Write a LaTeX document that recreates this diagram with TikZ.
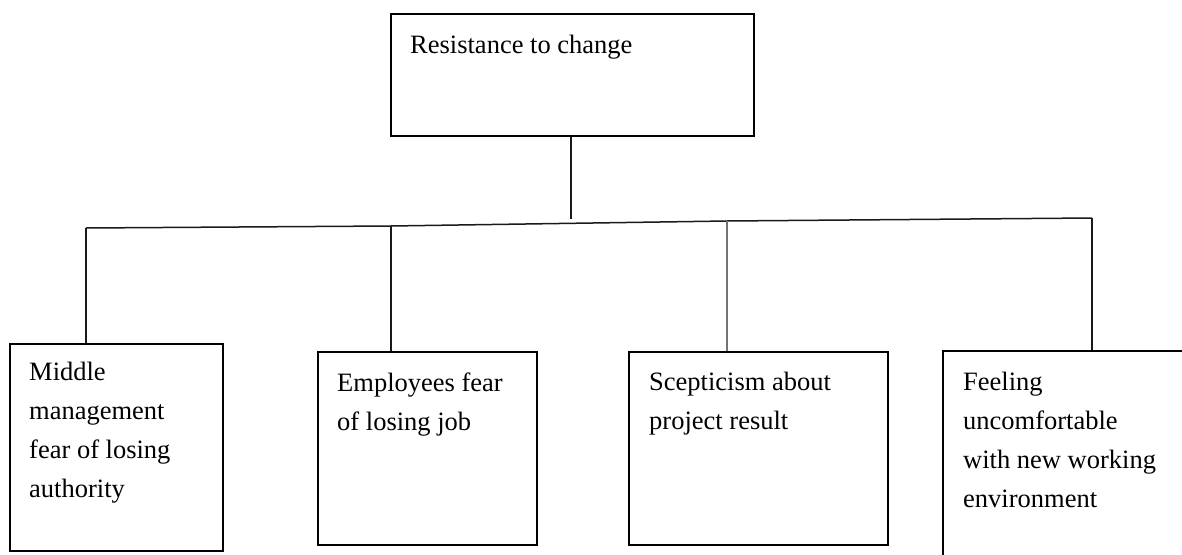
\documentclass[tikz,border=0pt]{standalone}
\usepackage{fontspec}
\setmainfont{Liberation Serif}
\begin{document}
\begin{tikzpicture}[x=1pt,y=-1pt,
  box/.style={draw=black, line width=1.6pt, fill=white, inner sep=0pt, anchor=north west},
  wire/.style={draw=black!90, line width=1.5pt},
  thinwire/.style={draw=black!55, line width=1.3pt},
  lbl/.style={anchor=base west, inner sep=0pt, font=\fontsize{26.5}{39}\selectfont}
]
\clip (0,0) rectangle (1182,554);
\fill[white] (0,0) rectangle (1182,554);

% boxes
\node[box, minimum width=363pt, minimum height=122pt] (top) at (390,13) {};
\node[box, minimum width=213pt, minimum height=207pt] (b1) at (9,343) {};
\node[box, minimum width=219pt, minimum height=193pt] (b2) at (317,351) {};
\node[box, minimum width=259pt, minimum height=193pt] (b3) at (628,351) {};
\node[box, minimum width=260pt, minimum height=220pt] (b4) at (942,350) {};

% labels
\node[lbl] (t0) at (410,53) {Resistance to change};
\node[lbl] (t1) at (29,380) {\parbox[t]{190pt}{\raggedright Middle\\management\\fear of losing\\authority}};
\node[lbl] (t2) at (337,391) {\parbox[t]{190pt}{\raggedright Employees fear\\of losing job}};
\node[lbl] (t3) at (649,390) {\parbox[t]{230pt}{\raggedright Scepticism about\\project result}};
\node[lbl] (t4) at (963,390) {\parbox[t]{230pt}{\raggedright Feeling\\uncomfortable\\with new working\\environment}};

% bus junctions
\coordinate (j0) at (571,219);
\coordinate (j1) at (86,228);
\coordinate (j2) at (391,226);
\coordinate (j3) at (727,221);
\coordinate (j4) at (1092,218);

% connectors
\draw[wire] (top.south -| j0) -- (j0);
\draw[wire] (j1) -- (j2) -- (j3) -- (j4);
\draw[wire] (j1) -- (j1 |- b1.north);
\draw[wire] (j2) -- (j2 |- b2.north);
\draw[thinwire] (j3) -- (j3 |- b3.north);
\draw[wire] (j4) -- (j4 |- b4.north);
\end{tikzpicture}
\end{document}
